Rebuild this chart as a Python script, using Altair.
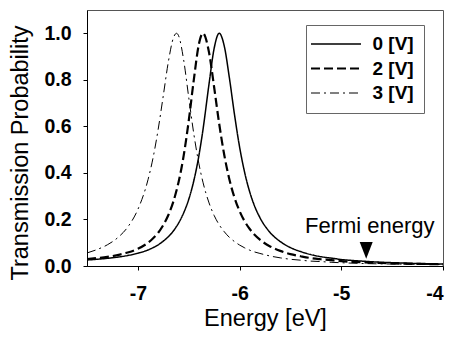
import altair as alt
import pandas as pd

energy = [-7.5, -7.4, -7.3, -7.2, -7.1, -7.0, -6.9, -6.85, -6.8, -6.75, -6.7, -6.65, -6.62, -6.6,
          -6.55, -6.5, -6.45, -6.4, -6.36, -6.3, -6.25, -6.2, -6.15, -6.1, -6.05, -6.0,
          -5.95, -5.9, -5.85, -5.8, -5.7, -5.6, -5.5, -5.4, -5.3, -5.2, -5.1, -5.0,
          -4.8, -4.6, -4.4, -4.2, -4.0]

t_0v = [0.026, 0.029, 0.033, 0.038, 0.045, 0.055, 0.069, 0.079, 0.091, 0.107, 0.126, 0.151, 0.170, 0.184,
        0.228, 0.286, 0.366, 0.474, 0.585, 0.783, 0.935, 1.0, 0.944, 0.808, 0.651, 0.512,
        0.402, 0.318, 0.255, 0.208, 0.144, 0.105, 0.079, 0.062, 0.049, 0.040, 0.034, 0.028,
        0.021, 0.016, 0.013, 0.010, 0.009]

t_2v = [0.030, 0.034, 0.039, 0.047, 0.058, 0.074, 0.100, 0.119, 0.143, 0.176, 0.219, 0.278, 0.324, 0.360,
        0.473, 0.623, 0.800, 0.953, 1.0, 0.917, 0.768, 0.610, 0.476, 0.372, 0.294, 0.236,
        0.192, 0.159, 0.133, 0.113, 0.084, 0.065, 0.051, 0.042, 0.034, 0.029, 0.025, 0.021,
        0.016, 0.013, 0.010, 0.009, 0.007]

t_3v = [0.056, 0.071, 0.091, 0.121, 0.167, 0.243, 0.371, 0.466, 0.588, 0.732, 0.878, 0.981, 1.0, 0.990,
        0.886, 0.725, 0.568, 0.440, 0.360, 0.271, 0.217, 0.177, 0.147, 0.123, 0.105, 0.090,
        0.078, 0.068, 0.060, 0.054, 0.043, 0.035, 0.029, 0.025, 0.021, 0.019, 0.016, 0.014,
        0.011, 0.009, 0.008, 0.007, 0.006]

series_names = ["0 [V]", "2 [V]", "3 [V]"]
series_dash = [[1, 0], [9, 4], [9, 4, 2, 4]]
series_width = [1.5, 2.2, 1.0]

x_ticks = [-7, -6, -5, -4]
y_ticks = [0.0, 0.2, 0.4, 0.6, 0.8, 1.0]

fermi_label = ["Fermi energy"]
fermi_label_e = [-4.72]
fermi_label_t = [0.141]
fermi_marker_e = [-4.755]
fermi_marker_t = [0.067]

FONT = "Liberation Sans"

rows = []
for name, vals in zip(series_names, [t_0v, t_2v, t_3v]):
    for e, t in zip(energy, vals):
        rows.append({"E": e, "T": t, "series": name})
df = pd.DataFrame(rows)

x_scale = alt.Scale(domain=[-7.5, -4.0], nice=False, zero=False)
y_scale = alt.Scale(domain=[0, 1.1], nice=False, zero=False)

x_enc = alt.X("E:Q", scale=x_scale,
              axis=alt.Axis(values=x_ticks, title="Energy [eV]", grid=False,
                            labelExpr="'' + datum.value",
                            labelFont=FONT, labelFontSize=19.5, labelFontWeight="bold",
                            labelColor="black", labelBaseline="alphabetic", labelPadding=29,
                            tickSize=4, tickColor="black", domainColor="black",
                            titleFont=FONT, titleFontSize=23.5, titleFontWeight="normal",
                            titleColor="black", titleBaseline="alphabetic", titleY=59))
y_enc = alt.Y("T:Q", scale=y_scale,
              axis=alt.Axis(values=y_ticks, title="Transmission Probability", grid=False,
                            format=".1f",
                            labelFont=FONT, labelFontSize=19.5, labelFontWeight="bold",
                            labelColor="black", labelPadding=12, labelBaseline="middle",
                            tickSize=4, tickColor="black", domainColor="black",
                            titleFont=FONT, titleFontSize=23.5, titleFontWeight="normal",
                            titleColor="black", titleBaseline="alphabetic",
                            titleX=-60, titleY=142.5, titleAngle=-90))

legend = alt.Legend(title=None, orient="none", legendX=219, legendY=15,
                    symbolType="M-3.333,0H3.333", symbolSize=225,
                    symbolStrokeColor="black", symbolOffset=11, labelOffset=27,
                    labelFont=FONT, labelFontSize=19, labelFontWeight="bold", labelColor="black",
                    strokeColor="#666666", padding=9.5, rowPadding=4.5, fillColor="white")

lines = alt.Chart(df).mark_line(color="black", interpolate="monotone", clip=True).encode(
    x=x_enc,
    y=y_enc,
    strokeDash=alt.StrokeDash("series:N", scale=alt.Scale(domain=series_names, range=series_dash),
                              legend=legend),
    strokeWidth=alt.StrokeWidth("series:N",
                                scale=alt.Scale(type="ordinal", domain=series_names, range=series_width),
                                legend=legend),
    detail="series:N",
)

marker_df = pd.DataFrame({"E": fermi_marker_e, "T": fermi_marker_t})
marker = alt.Chart(marker_df).mark_point(
    shape="M-1,-1.3L1,-1.3L0,1.3Z", size=169, filled=True, color="black", opacity=1
).encode(x="E:Q", y="T:Q")

label_df = pd.DataFrame({"E": fermi_label_e, "T": fermi_label_t, "txt": fermi_label})
label = alt.Chart(label_df).mark_text(
    font=FONT, fontSize=22, color="black", align="center", baseline="alphabetic"
).encode(x="E:Q", y="T:Q", text="txt:N")

chart = alt.layer(lines, marker, label).properties(
    width=356, height=256,
    autosize=alt.AutoSizeParams(type="none"),
    padding={"left": 79, "top": 2, "right": 2, "bottom": 72},
).configure_view(stroke="#555555", strokeWidth=1)

chart.save("out.html", embed_options={"renderer": "svg", "actions": False})
